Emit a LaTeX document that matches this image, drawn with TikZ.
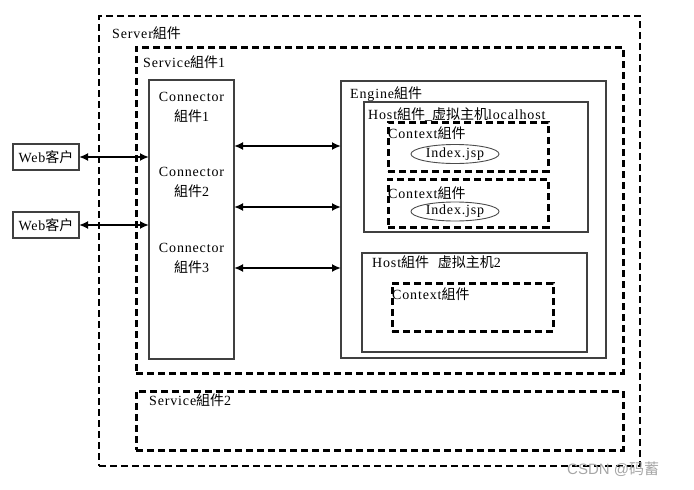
\documentclass[tikz,border=0pt]{standalone}
\usepackage{fontspec}
\setmainfont{Liberation Serif}[LetterSpace=6]
\newfontfamily\cjk{Noto Sans CJK SC}
\newfontfamily\wmfont{Liberation Sans}
\newcommand{\zj}{{\cjk 組件}}
\usepackage{tikz}
\usetikzlibrary{arrows,arrows.meta,shapes.geometric,positioning}

\tikzset{
  box/.style={draw=black!75, line width=1.2pt, inner sep=0pt, outer sep=0pt, anchor=north west},
  dbox/.style={draw, line width=3pt, dash pattern=on 7pt off 4pt, inner sep=0pt, outer sep=0pt, anchor=north west},
  sbox/.style={draw, line width=1.6pt, dash pattern=on 7pt off 4pt, inner sep=0pt, outer sep=0pt, anchor=north west},
  lbl/.style={anchor=base west, inner sep=0pt},
  jsp/.style={draw=black!70, line width=0.9pt, ellipse, minimum width=88pt, minimum height=19pt, inner sep=0pt},
  link/.style={{Latex[length=9pt,width=8pt]}-{Latex[length=9pt,width=8pt]}, line width=2.4pt}
}

\begin{document}
\begin{tikzpicture}[x=1pt,y=-1pt,font=\fontsize{14}{20}\selectfont]
\useasboundingbox (0,0) rectangle (694,490);
\node[sbox, minimum width=541, minimum height=450] (server) at (99,16) {};
\node[dbox, minimum width=487, minimum height=326] (service1) at (136,47) {};
\node[dbox, minimum width=487, minimum height=59] (service2) at (136,391) {};
\node[lbl] (serverl) at (112,38) {Server\zj};
\node[lbl] (service1l) at (143,67) {Service\zj1};
\node[lbl] (service2l) at (149,405) {Service\zj2};

\node[box, minimum width=85, minimum height=279] (conn) at (149,80) {};
\node[anchor=base, align=center, inner sep=0pt] (conn1) at (191.5,121) {Connector\\\zj1};
\node[anchor=base, align=center, inner sep=0pt] (conn2) at (191.5,196) {Connector\\\zj2};
\node[anchor=base, align=center, inner sep=0pt] (conn3) at (191.5,272) {Connector\\\zj3};

\node[box, minimum width=66, minimum height=26] (web1) at (13,144) {Web{\cjk 客户}};
\node[box, minimum width=66, minimum height=26] (web2) at (13,212) {Web{\cjk 客户}};

\node[box, minimum width=265, minimum height=277] (engine) at (341,81) {};
\node[lbl] (enginel) at (350,98) {Engine\zj};
\node[box, minimum width=224, minimum height=130] (host1) at (364,102) {};
\node[lbl] (host1l) at (368,119) {Host\zj\_{\cjk 虚拟主机}localhost};
\node[dbox, minimum width=160, minimum height=49] (ctx1) at (388,122) {};
\node[lbl] (ctx1l) at (388,138) {Context\zj};
\node[jsp] (idx1) at (455,154) {Index.jsp};
\node[dbox, minimum width=160, minimum height=48] (ctx2) at (388,179) {};
\node[lbl] (ctx2l) at (388,198) {Context\zj};
\node[jsp] (idx2) at (455,211.5) {Index.jsp};
\node[box, minimum width=225, minimum height=99] (host2) at (362,253) {};
\node[lbl] (host2l) at (372,267) {Host\zj\ \ {\cjk 虚拟主机}2};
\node[dbox, minimum width=161, minimum height=48] (ctx3) at (392,283) {};
\node[lbl] (ctx3l) at (392,299) {Context\zj};

\draw[link] (web1.east) -- (conn.west |- web1.east);
\draw[link] (web2.east) -- (conn.west |- web2.east);
\foreach \y in {146,207,268}
  \draw[link] (conn.east |- 0,\y) -- (engine.west |- 0,\y);

\node[lbl, text=black!35, font=\wmfont\fontsize{15}{15}\selectfont] (mark) at (567,474) {CSDN @{\cjk 码蓄}};
\end{tikzpicture}
\end{document}
